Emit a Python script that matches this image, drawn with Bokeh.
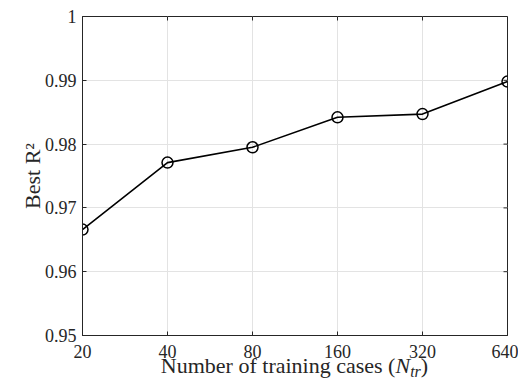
import math
from bokeh.plotting import figure
from bokeh.layouts import column
from bokeh.models import FixedTicker, Range1d, ColumnDataSource, NumeralTickFormatter, Div
from bokeh.embed import file_html
from bokeh.resources import INLINE

# ---- data ----
n_train = [20, 40, 80, 160, 320, 640]
best_r2 = [0.9666, 0.9771, 0.9795, 0.9842, 0.9847, 0.9898]
x_ticks = [20, 40, 80, 160, 320, 640]
y_ticks = [0.95, 0.96, 0.97, 0.98, 0.99, 1.0]
y_tick_labels = ["0.95", "0.96", "0.97", "0.98", "0.99", "1"]
x_label_main = "Number of training cases ("
x_label_sym = "N"
x_label_sub = "tr"
x_label_end = ")"
y_label = "Best R²"

FONT = "Liberation Serif"
TXT = "#262626"
GRID = "#e3e3e3"
TICK_FS = 18
LAB_FS = 22
SUB_FS = 16

W = 518
H1 = 366          # main plot
H2 = 16           # strip holding the x-axis title
BL, BR, BT = 82, 11, 16
BB = H1 - BT - 319
FW = W - BL - BR
X0, X1 = 20, 640
Y0, Y1 = 0.95, 1.0

src = ColumnDataSource(data=dict(x=n_train, y=best_r2))

p = figure(width=W, height=H1, output_backend="svg", toolbar_location=None,
           x_axis_type="log", x_range=Range1d(X0, X1), y_range=Range1d(Y0, Y1),
           min_border_left=BL, min_border_right=BR, min_border_top=BT, min_border_bottom=BB)
p.outline_line_color = TXT
p.outline_line_width = 1
p.background_fill_color = "white"
p.border_fill_color = "white"

xt = FixedTicker(ticks=x_ticks)
yt = FixedTicker(ticks=y_ticks)

p.xaxis.ticker = xt
p.xaxis.formatter = NumeralTickFormatter(format="0")
p.yaxis.ticker = yt
p.yaxis.major_label_overrides = {t: l for t, l in zip(y_ticks, y_tick_labels)}
p.xgrid.ticker = xt
p.ygrid.ticker = yt
p.grid.grid_line_color = GRID
p.grid.grid_line_width = 1

for ax in (p.xaxis[0], p.yaxis[0]):
    ax.axis_line_color = TXT
    ax.axis_line_width = 1
    ax.major_tick_line_color = TXT
    ax.major_tick_in = 4
    ax.major_tick_out = 0
    ax.minor_tick_line_color = None
    ax.major_label_text_font = FONT
    ax.major_label_text_font_size = f"{TICK_FS}px"
    ax.major_label_text_color = TXT
    ax.axis_label_text_font = FONT
    ax.axis_label_text_font_size = f"{LAB_FS}px"
    ax.axis_label_text_font_style = "normal"
    ax.axis_label_text_color = TXT

p.yaxis.axis_label = y_label
p.xaxis.major_label_standoff = 9
p.yaxis.major_label_standoff = 6
p.yaxis.axis_label_standoff = -3

# inward ticks on the top and right edges of the box
p.ray(x=x_ticks, y=[Y1] * len(x_ticks), length=4, length_units="screen",
      angle=-math.pi / 2, line_color=TXT, line_width=1)
p.ray(x=[X1] * len(y_ticks), y=y_ticks, length=4, length_units="screen",
      angle=math.pi, line_color=TXT, line_width=1)

p.line("x", "y", source=src, line_color="black", line_width=1.6)
p.scatter("x", "y", source=src, marker="circle", size=11, fill_color=None,
          line_color="black", line_width=1.5)

# ---- x axis title: "Number of training cases (N_tr)" with italic N_tr ----
center = BL + FW / 2
html = (
    f'<div style="width:{2 * center:.1f}px;text-align:center;white-space:nowrap;'
    f"font-family:'{FONT}';font-size:{LAB_FS}px;line-height:{LAB_FS}px;color:{TXT};"
    f'position:relative;top:-11px;margin:0;padding:0">'
    f'{x_label_main}<i>{x_label_sym}</i>'
    f'<sub style="font-size:{SUB_FS}px;line-height:0;vertical-align:-4px"><i>{x_label_sub}</i></sub>'
    f'{x_label_end}</div>'
)
xlab = Div(text=html, width=W, height=H2, margin=0)

layout = column(p, xlab, spacing=0)
open("out.html", "w").write(file_html(layout, INLINE))
